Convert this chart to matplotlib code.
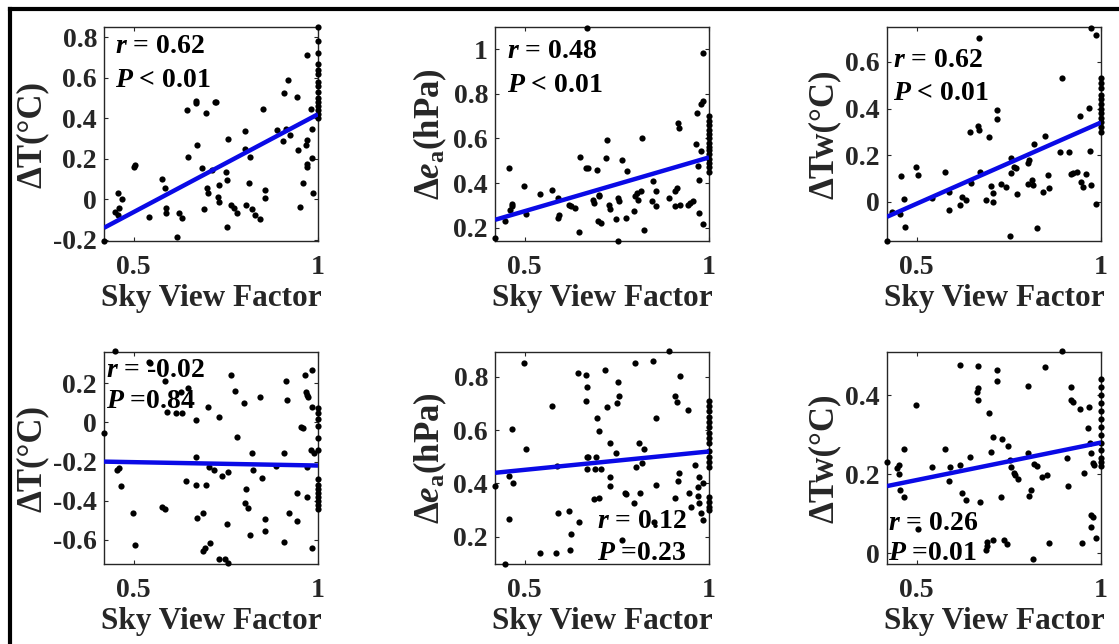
import matplotlib
matplotlib.use('Agg')
import matplotlib.pyplot as plt
from matplotlib.lines import Line2D

plt.rcParams['font.family'] = ['Liberation Serif', 'DejaVu Serif']
plt.rcParams['font.weight'] = 'bold'
plt.rcParams['axes.labelweight'] = 'bold'
plt.rcParams['mathtext.fontset'] = 'custom'
plt.rcParams['mathtext.rm'] = 'Liberation Serif:bold'
plt.rcParams['mathtext.it'] = 'Liberation Serif:italic:bold'
plt.rcParams['mathtext.bf'] = 'Liberation Serif:bold'

# ---------------- data ----------------
fit_x = [0.42, 1.0]

# (a) dT, top-left
svf_a = [0.42, 0.458, 0.47, 0.46, 0.449, 0.458, 0.501, 0.503, 0.542, 0.578, 0.586, 0.589, 0.588, 0.618,
         0.624, 0.632, 0.644, 0.649, 0.668, 0.67, 0.672, 0.686, 0.697, 0.70, 0.701, 0.69, 0.713, 0.72,
         0.724, 0.733, 0.729, 0.733, 0.75, 0.754, 0.755, 0.753, 0.764, 0.773, 0.78, 0.802, 0.803, 0.805,
         0.812, 0.816, 0.822, 0.828, 0.844, 0.85, 0.857, 0.857, 0.89, 0.908, 0.906, 0.913, 0.918, 0.924,
         0.943, 0.945, 0.952, 0.96, 0.967, 0.971, 0.969, 0.969, 0.971, 0.98, 0.985, 0.985, 0.987]
val_a = [-0.203, 0.03, 0.0, -0.044, -0.064, -0.077, 0.16, 0.172, -0.089, 0.103, 0.054, -0.044, -0.066, -0.187,
         -0.069, -0.093, 0.44, 0.21, 0.484, 0.475, 0.267, 0.153, 0.426, 0.054, 0.03, -0.049, 0.144, 0.48,
         0.48, 0.07, 0.013, -0.011, 0.136, 0.095, 0.30, -0.134, -0.028, -0.044, -0.066, 0.338, 0.251, -0.028,
         0.082, 0.21, -0.049, -0.077, -0.097, 0.448, 0.046, 0.005, 0.344, 0.525, 0.289, 0.349, 0.59, 0.316,
         0.505, 0.243, -0.036, 0.079, 0.267, 0.295, 0.177, 0.16, 0.71, 0.448, 0.349, 0.202, 0.033]
edge_a = [0.85, 0.78, 0.72, 0.67, 0.64, 0.62, 0.58, 0.56, 0.53, 0.50, 0.48, 0.46, 0.44, 0.42, 0.40]
fit_a = [-0.14, 0.42]

# (b) de_a, top-middle
svf_b = [0.42, 0.446, 0.458, 0.46, 0.465, 0.467, 0.498, 0.503, 0.543, 0.575, 0.591, 0.591, 0.594, 0.62,
         0.626, 0.637, 0.65, 0.648, 0.667, 0.672, 0.669, 0.686, 0.687, 0.697, 0.702, 0.703, 0.70, 0.706,
         0.72, 0.723, 0.729, 0.732, 0.749, 0.753, 0.753, 0.756, 0.764, 0.776, 0.779, 0.798, 0.80, 0.804,
         0.807, 0.816, 0.818, 0.825, 0.848, 0.846, 0.855, 0.857, 0.891, 0.907, 0.909, 0.913, 0.916, 0.918,
         0.922, 0.943, 0.949, 0.956, 0.965, 0.967, 0.97, 0.973, 0.974, 0.979, 0.979, 0.985, 0.983, 0.985]
val_b = [0.153, 0.228, 0.468, 0.28, 0.295, 0.306, 0.385, 0.26, 0.35, 0.37, 0.333, 0.243, 0.255, 0.30,
         0.295, 0.29, 0.516, 0.18, 0.468, 0.468, 1.095, 0.325, 0.31, 0.46, 0.348, 0.34, 0.228, 0.22,
         0.513, 0.595, 0.30, 0.283, 0.24, 0.14, 0.333, 0.318, 0.505, 0.243, 0.456, 0.273, 0.34, 0.355,
         0.325, 0.363, 0.603, 0.19, 0.41, 0.318, 0.363, 0.295, 0.333, 0.295, 0.363, 0.378, 0.67, 0.645,
         0.303, 0.303, 0.31, 0.318, 0.573, 0.716, 0.476, 0.265, 0.415, 0.753, 0.543, 0.216, 0.983, 0.768]
edge_b = [0.70, 0.68, 0.66, 0.64, 0.62, 0.60, 0.58, 0.56, 0.55, 0.53, 0.51, 0.49, 0.47, 0.45]
fit_b = [0.235, 0.515]

# (c) dTw, top-right
svf_c = [0.42, 0.434, 0.456, 0.458, 0.465, 0.47, 0.499, 0.503, 0.542, 0.576, 0.589, 0.588, 0.619, 0.623,
         0.633, 0.645, 0.649, 0.666, 0.668, 0.67, 0.672, 0.687, 0.696, 0.701, 0.706, 0.708, 0.719, 0.717,
         0.73, 0.742, 0.753, 0.755, 0.757, 0.765, 0.769, 0.773, 0.801, 0.805, 0.803, 0.812, 0.819, 0.815,
         0.826, 0.848, 0.844, 0.855, 0.86, 0.889, 0.893, 0.914, 0.918, 0.923, 0.935, 0.944, 0.947, 0.952,
         0.959, 0.968, 0.971, 0.974, 0.973, 0.986, 0.986]
val_c = [-0.167, -0.043, -0.054, 0.111, 0.011, -0.107, 0.15, 0.114, 0.014, 0.129, 0.043, -0.036, -0.014, 0.021,
         0.007, 0.30, 0.079, 0.324, 0.307, 0.704, 0.129, 0.007, 0.276, 0.067, 0.0, 0.036, 0.393, 0.357,
         0.076, 0.064, -0.147, 0.121, 0.186, 0.15, 0.143, 0.031, 0.167, 0.179, 0.076, 0.093, 0.247, 0.071,
         -0.114, 0.281, 0.043, 0.114, 0.057, 0.214, 0.529, 0.214, 0.119, 0.124, 0.129, 0.367, 0.083, 0.064,
         0.119, 0.404, 0.219, 0.071, 0.747, 0.714, -0.01]
edge_c = [0.53, 0.51, 0.49, 0.46, 0.44, 0.42, 0.40, 0.38, 0.36, 0.34, 0.32, 0.30]
fit_c = [-0.065, 0.34]

# (d) dT, bottom-left
svf_d = [0.42, 0.449, 0.456, 0.462, 0.467, 0.498, 0.503, 0.542, 0.545, 0.578, 0.586, 0.586, 0.59, 0.615,
         0.632, 0.629, 0.649, 0.643, 0.668, 0.668, 0.668, 0.672, 0.688, 0.697, 0.688, 0.694, 0.707, 0.702,
         0.705, 0.717, 0.731, 0.733, 0.74, 0.749, 0.755, 0.753, 0.755, 0.764, 0.775, 0.78, 0.80, 0.805,
         0.803, 0.809, 0.816, 0.82, 0.824, 0.844, 0.847, 0.857, 0.857, 0.886, 0.908, 0.908, 0.914, 0.917,
         0.922, 0.943, 0.942, 0.953, 0.958, 0.965, 0.967, 0.971, 0.974, 0.969, 0.971, 0.98, 0.983, 0.985,
         0.983, 0.99]
val_d = [-0.055, 0.365, -0.243, -0.234, -0.323, -0.464, -0.626, 0.311, 0.306, -0.43, -0.443, 0.214, 0.055, 0.047,
         0.047, 0.157, 0.174, -0.297, 0.013, -0.174, -0.319, -0.489, -0.464, -0.319, -0.656, -0.643, -0.614, 0.077,
         -0.226, -0.243, -0.699, 0.03, -0.273, -0.699, -0.719, -0.518, -0.251, 0.243, 0.163, -0.076, 0.101, -0.341,
         -0.409, -0.438, -0.574, -0.154, -0.243, 0.129, -0.285, -0.493, -0.552, -0.222, -0.154, -0.609, 0.21, 0.115,
         -0.464, -0.503, -0.358, -0.021, -0.03, 0.243, 0.157, 0.14, 0.129, -0.226, -0.379, -0.14, 0.268, 0.081,
         -0.639, -0.157]
edge_d = [0.075, 0.05, 0.02, -0.02, -0.08, -0.14, -0.29, -0.32, -0.34, -0.36, -0.38, -0.40, -0.42, -0.44]
fit_d = [-0.20, -0.22]

# (e) de_a, bottom-middle
svf_e = [0.42, 0.446, 0.458, 0.458, 0.466, 0.47, 0.498, 0.503, 0.541, 0.575, 0.586, 0.587, 0.591, 0.62,
         0.624, 0.627, 0.648, 0.645, 0.667, 0.669, 0.666, 0.669, 0.669, 0.672, 0.687, 0.69, 0.695, 0.696,
         0.702, 0.703, 0.707, 0.718, 0.723, 0.731, 0.732, 0.732, 0.749, 0.752, 0.753, 0.756, 0.765, 0.771,
         0.776, 0.798, 0.80, 0.802, 0.81, 0.813, 0.818, 0.825, 0.848, 0.852, 0.855, 0.857, 0.891, 0.907,
         0.909, 0.913, 0.916, 0.918, 0.922, 0.943, 0.947, 0.952, 0.961, 0.97, 0.973, 0.97, 0.974, 0.979,
         0.983, 0.983]
val_e = [0.391, 0.098, 0.428, 0.265, 0.603, 0.403, 0.853, 0.528, 0.14, 0.69, 0.138, 0.465, 0.29, 0.298,
         0.15, 0.21, 0.256, 0.815, 0.806, 0.763, 0.71, 0.50, 0.453, 0.498, 0.34, 0.453, 0.50, 0.644,
         0.344, 0.598, 0.456, 0.825, 0.685, 0.423, 0.553, 0.39, 0.515, 0.70, 0.78, 0.728, 0.188, 0.365,
         0.36, 0.328, 0.85, 0.463, 0.553, 0.365, 0.475, 0.528, 0.86, 0.256, 0.644, 0.394, 0.896, 0.344,
         0.728, 0.706, 0.41, 0.438, 0.803, 0.675, 0.363, 0.313, 0.469, 0.388, 0.425, 0.353, 0.325, 0.29,
         0.403, 0.263]
edge_e = [0.71, 0.69, 0.67, 0.65, 0.63, 0.61, 0.59, 0.57, 0.55, 0.52, 0.50, 0.48, 0.46, 0.35, 0.33, 0.31, 0.30]
fit_e = [0.44, 0.52]

# (f) dTw, bottom-right
svf_f = [0.42, 0.447, 0.452, 0.452, 0.456, 0.467, 0.465, 0.499, 0.503, 0.542, 0.576, 0.588, 0.59, 0.619,
         0.623, 0.633, 0.619, 0.645, 0.666, 0.666, 0.664, 0.666, 0.672, 0.687, 0.69, 0.696, 0.692, 0.701,
         0.706, 0.708, 0.717, 0.719, 0.73, 0.733, 0.736, 0.746, 0.749, 0.753, 0.757, 0.764, 0.768, 0.774,
         0.801, 0.802, 0.805, 0.811, 0.816, 0.819, 0.826, 0.841, 0.848, 0.853, 0.859, 0.893, 0.909, 0.91,
         0.918, 0.92, 0.923, 0.944, 0.948, 0.954, 0.964, 0.968, 0.971, 0.973, 0.973, 0.978, 0.973, 0.986,
         0.977, 0.982]
val_f = [0.232, 0.215, 0.223, 0.20, 0.16, 0.143, 0.265, 0.376, 0.061, 0.219, 0.265, 0.184, 0.219, 0.223,
         0.153, 0.136, 0.476, 0.244, 0.473, 0.417, 0.408, 0.387, 0.131, 0.008, 0.019, 0.355, 0.029, 0.257,
         0.295, 0.034, 0.436, 0.463, 0.143, 0.288, 0.034, 0.024, 0.272, 0.236, 0.219, 0.204, 0.198, 0.187,
         0.253, 0.423, 0.145, 0.16, -0.015, 0.226, 0.221, 0.194, 0.472, 0.198, 0.027, 0.511, 0.242, 0.17,
         0.421, 0.387, 0.383, 0.366, 0.027, 0.202, 0.316, 0.371, 0.278, 0.253, 0.097, 0.093, 0.067, 0.038,
         0.229, 0.223]
edge_f = [0.44, 0.42, 0.40, 0.38, 0.36, 0.34, 0.32, 0.30, 0.28, 0.26, 0.24, 0.23, 0.22]
fit_f = [0.17, 0.28]

ylabels = ['ΔT(°C)', 'Δ$\\mathit{e}_\\mathrm{a}$(hPa)', 'ΔTw(°C)'] * 2
r_text = ['$r$ = 0.62', '$r$ = 0.48', '$r$ = 0.62', '$r$ = -0.02', '$r$ = 0.12', '$r$ = 0.26']
p_text = ['$P$ < 0.01', '$P$ < 0.01', '$P$ < 0.01', '$P$ =0.84', '$P$ =0.23', '$P$ =0.01']
xlabel = 'Sky View Factor'
xticks = [0.5, 1]
xtick_labels = ['0.5', '1']

# ---------------- layout ----------------
W, H = 1119, 644
fig = plt.figure(figsize=(W / 100, H / 100), dpi=100)
fig.patch.set_facecolor('white')

lefts = [104, 495, 887]
rows = [(27, 241), (352, 564)]
ylims = [(-0.205, 0.85), (0.14, 1.10), (-0.169, 0.75),
         (-0.723, 0.36), (0.098, 0.893), (-0.027, 0.509)]
yticks = [[-0.2, 0, 0.2, 0.4, 0.6, 0.8], [0.2, 0.4, 0.6, 0.8, 1], [0, 0.2, 0.4, 0.6],
          [-0.6, -0.4, -0.2, 0, 0.2], [0.2, 0.4, 0.6, 0.8], [0, 0.2, 0.4]]
text_pos = [(0.05, 0.878, 0.72), (0.056, 0.854, 0.695), (0.028, 0.813, 0.659),
            (0.01, 0.882, 0.736), (0.477, 0.17, 0.019), (0.005, 0.16, 0.019)]

data = [(svf_a, val_a, edge_a, fit_a), (svf_b, val_b, edge_b, fit_b), (svf_c, val_c, edge_c, fit_c),
        (svf_d, val_d, edge_d, fit_d), (svf_e, val_e, edge_e, fit_e), (svf_f, val_f, edge_f, fit_f)]

gray = '#262626'
for i, (xs, ys, edge, fit) in enumerate(data):
    top, bot = rows[i // 3]
    left = lefts[i % 3]
    ax = fig.add_axes([left / W, 1 - bot / H, 214 / W, (bot - top) / H])
    x_all = list(xs) + [1.0] * len(edge)
    y_all = list(ys) + list(edge)
    ax.scatter(x_all, y_all, s=20, c='k', linewidths=0, clip_on=False, zorder=3)
    ax.plot(fit_x, fit, color='#0a0ae6', lw=3.2, zorder=4, solid_capstyle='butt')
    ax.set_xlim(0.42, 1.0)
    ax.set_ylim(*ylims[i])
    ax.set_xticks(xticks)
    ax.set_xticklabels(xtick_labels)
    ax.set_yticks(yticks[i])
    ax.set_yticklabels([('%g' % v) for v in yticks[i]])
    ax.tick_params(direction='in', length=3, width=0.8, colors=gray, labelsize=20,
                   top=True, right=True)
    ax.tick_params(axis='x', pad=10)
    ax.tick_params(axis='y', pad=5)
    for s in ax.spines.values():
        s.set_color(gray)
        s.set_linewidth(1.0)
    ax.set_xlabel(xlabel, fontsize=22.5, fontweight='bold', color=gray, labelpad=3)
    ax.set_ylabel(ylabels[i], fontsize=25, fontweight='bold', color=gray, labelpad=3)
    tx, ry, py = text_pos[i]
    ax.text(tx, ry, r_text[i], transform=ax.transAxes, fontsize=20, fontweight='bold',
            color='k', va='baseline', zorder=5)
    ax.text(tx, py, p_text[i], transform=ax.transAxes, fontsize=20, fontweight='bold',
            color='k', va='baseline', zorder=5)

# outer frame (cropped figure border)
fig.add_artist(Line2D([10 / W, 1], [1 - 9 / H, 1 - 9 / H], transform=fig.transFigure, color='k', lw=3))
fig.add_artist(Line2D([10 / W, 10 / W], [0, 1 - 9 / H], transform=fig.transFigure, color='k', lw=3))

fig.savefig('out.png', dpi=100, facecolor='white')
